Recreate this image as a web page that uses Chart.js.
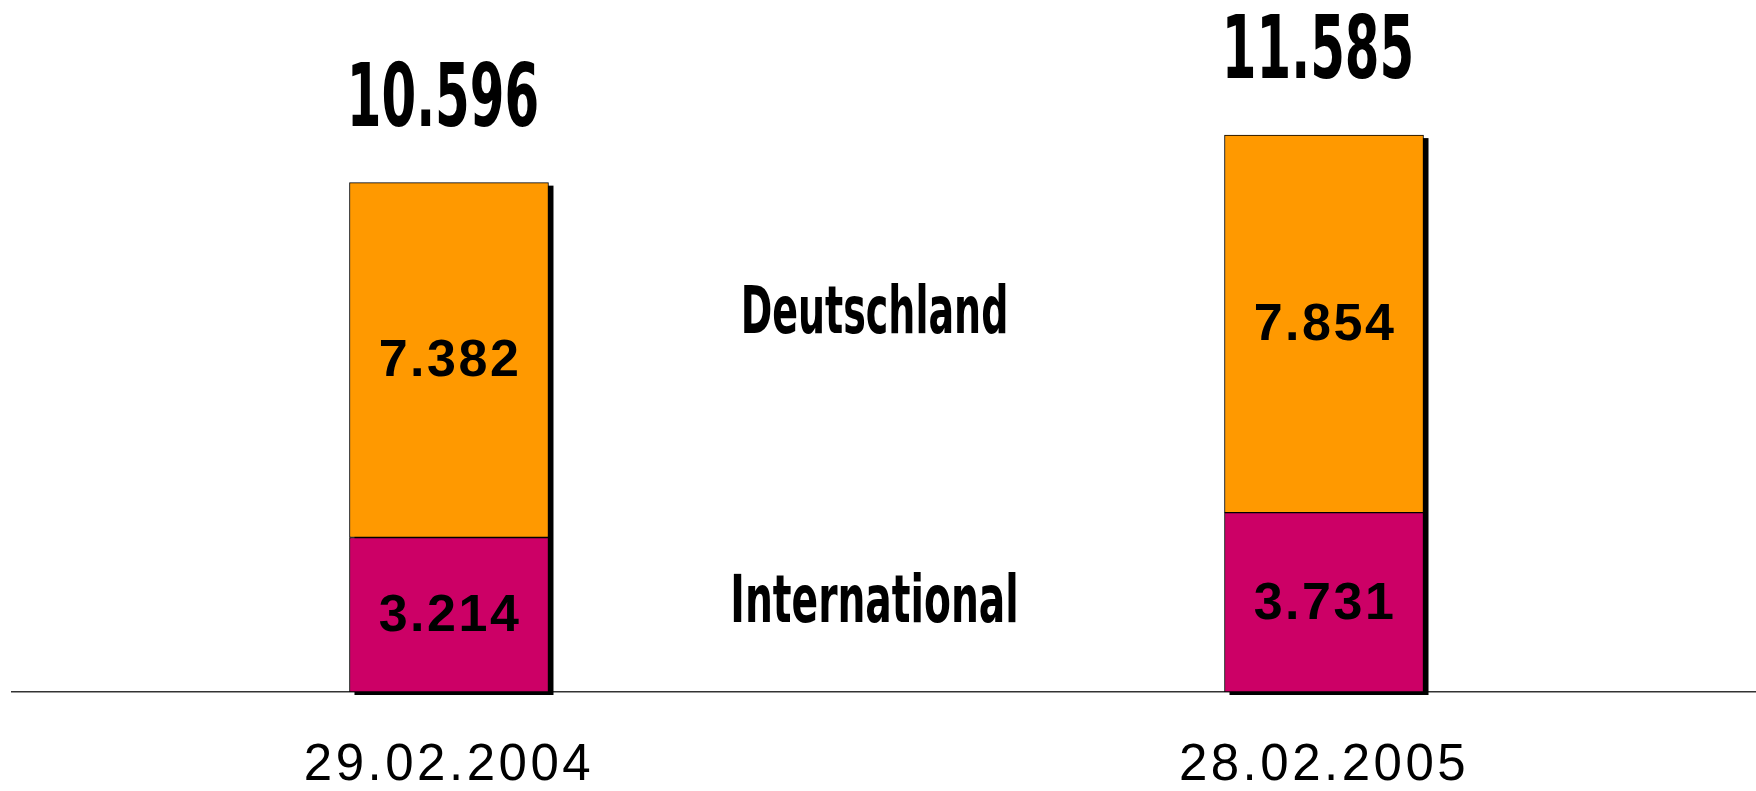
<!DOCTYPE html>
<html>
<head>
<meta charset="utf-8">
<script src="https://cdn.jsdelivr.net/npm/chart.js@4/dist/chart.umd.min.js"></script>
<style>
  html, body { margin: 0; padding: 0; background: #ffffff; }
  #c { display: block; }
</style>
</head>
<body>
<canvas id="c" width="1756" height="791"></canvas>
<script>
// ---- data ----
const categories = ["29.02.2004", "28.02.2005"];
const seriesNames = ["International", "Deutschland"];
const international = [3214, 3731];
const deutschland = [7382, 7854];
const colors = ["#CC0066", "#FF9900"];

function fmt(v) {
  return String(v).replace(/\B(?=(\d{3})+(?!\d))/g, ".");
}

const DISPLAY_FONT = "'DejaVu Sans Condensed', 'Liberation Sans Narrow', sans-serif";

const shadowPlugin = {
  id: "barShadow",
  beforeDraw(chart) {
    chart.ctx.letterSpacing = "3.5px";
  },
  beforeDatasetsDraw(chart) {
    const ctx = chart.ctx;
    ctx.letterSpacing = "0px";
    const metas = chart.getSortedVisibleDatasetMetas();
    if (!metas.length) return;
    const n = metas[0].data.length;
    ctx.save();
    ctx.fillStyle = "#000000";
    for (let i = 0; i < n; i++) {
      let top = Infinity, base = -Infinity, left = 0, w = 0;
      metas.forEach(m => {
        const el = m.data[i];
        const p = el.getProps(["x", "y", "base", "width"], true);
        top = Math.min(top, p.y, p.base);
        base = Math.max(base, p.y, p.base);
        left = p.x - p.width / 2;
        w = p.width;
      });
      ctx.fillRect(left + 5, top + 3, w, base - top);
    }
    ctx.restore();
  },
  afterDatasetsDraw(chart) {
    const ctx = chart.ctx;
    const metas = chart.getSortedVisibleDatasetMetas();
    ctx.save();
    ctx.fillStyle = "#000000";
    ctx.textAlign = "center";
    // values inside segments
    ctx.font = "bold 52px 'Liberation Sans', Arial, sans-serif";
    ctx.letterSpacing = "2.5px";
    ctx.textBaseline = "middle";
    metas.forEach(m => {
      const ds = chart.data.datasets[m.index];
      m.data.forEach((el, i) => {
        const p = el.getProps(["x", "y", "base"], true);
        const v = ds.data[i].y;
        ctx.fillText(fmt(v), p.x + 1, (p.y + p.base) / 2 + 2);
      });
    });
    // totals above bars
    ctx.letterSpacing = "0px";
    ctx.textBaseline = "alphabetic";
    ctx.font = "bold 88px " + DISPLAY_FONT;
    const n = metas[0].data.length;
    const xs = [];
    for (let i = 0; i < n; i++) {
      let total = 0, top = Infinity, x = 0;
      metas.forEach(m => {
        const ds = chart.data.datasets[m.index];
        total += ds.data[i].y;
        const p = m.data[i].getProps(["x", "y"], true);
        top = Math.min(top, p.y);
        x = p.x;
      });
      xs.push(x);
      ctx.save();
      ctx.translate(x - 6, top - 57);
      ctx.scale(0.63, 1);
      ctx.fillText(fmt(total), 0, 0);
      ctx.restore();
    }
    // series names between the bars
    const midX = (xs[0] + xs[xs.length - 1]) / 2 - 12;
    const area = chart.chartArea;
    ctx.font = "bold 66px " + DISPLAY_FONT;
    const nameBaselines = { "Deutschland": area.bottom - 359, "International": area.bottom - 70 };
    const nameScale = { "Deutschland": 0.64, "International": 0.66 };
    chart.data.datasets.forEach(ds => {
      ctx.save();
      ctx.translate(midX, nameBaselines[ds.label]);
      ctx.scale(nameScale[ds.label], 1);
      ctx.fillText(ds.label, 0, 0);
      ctx.restore();
    });
    ctx.restore();
  }
};

const datasets = [
  {
    label: seriesNames[0],
    data: international.map((v, i) => ({ x: i, y: v })),
    backgroundColor: colors[0]
  },
  {
    label: seriesNames[1],
    data: deutschland.map((v, i) => ({ x: i, y: v })),
    backgroundColor: colors[1]
  }
].map(d => Object.assign(d, {
  borderColor: "#000000",
  borderWidth: 1,
  borderSkipped: false,
  barThickness: 199
}));

new Chart(document.getElementById("c"), {
  type: "bar",
  data: { datasets },
  options: {
    responsive: false,
    devicePixelRatio: 1,
    animation: false,
    layout: { padding: { left: 12, right: 0, top: 19, bottom: 0 } },
    plugins: {
      legend: { display: false },
      tooltip: { enabled: false }
    },
    scales: {
      x: {
        type: "linear",
        stacked: true,
        offset: false,
        min: -0.4994,
        max: 1.4937,
        grid: { display: false, drawTicks: true, tickLength: 48 },
        border: { display: true, color: "#333333", width: 1.5 },
        ticks: {
          stepSize: 1,
          includeBounds: false,
          autoSkip: false,
          maxRotation: 0,
          padding: 0,
          color: "#000000",
          font: { family: "'Liberation Sans', Arial, sans-serif", size: 51, lineHeight: 1.0 },
          callback: v => (Number.isInteger(v) && categories[v] !== undefined) ? categories[v] : ""
        }
      },
      y: {
        type: "linear",
        stacked: true,
        display: false,
        min: 0,
        max: 14000
      }
    }
  },
  plugins: [shadowPlugin]
});
</script>
</body>
</html>
